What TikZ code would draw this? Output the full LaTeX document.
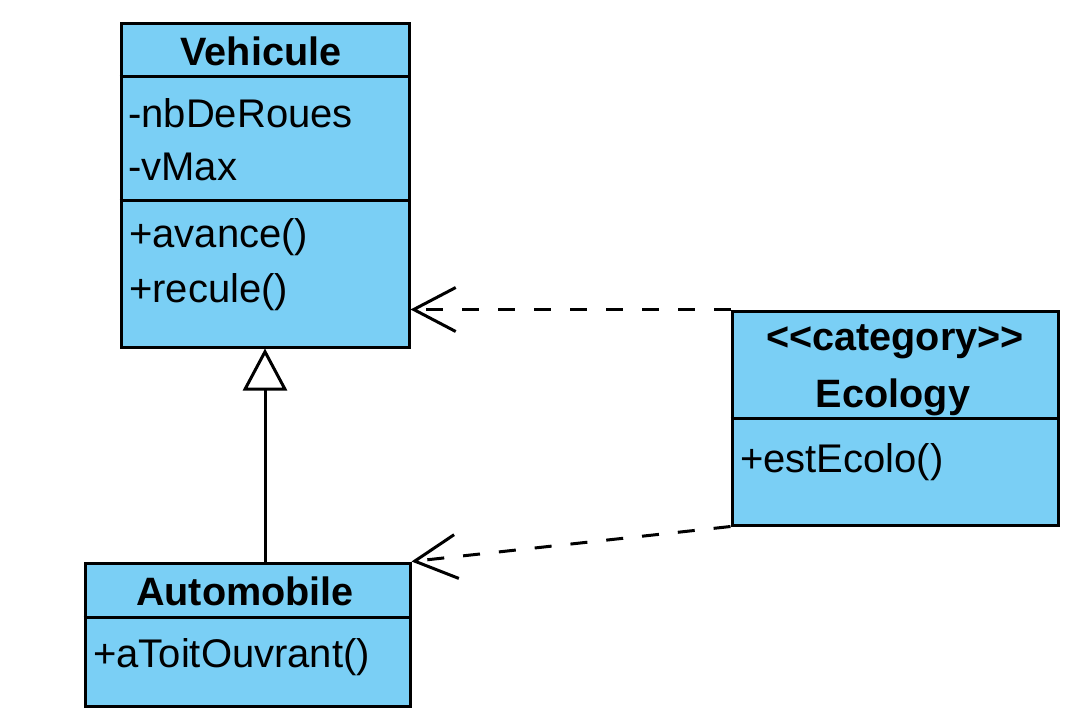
\documentclass[tikz,border=0pt]{standalone}
\usepackage{fontspec}
\setmainfont{Liberation Sans}
\usetikzlibrary{arrows.meta}
\definecolor{classfill}{RGB}{122,207,245}
\begin{document}
\begin{tikzpicture}[x=1pt,y=-1pt,
  classbox/.style={draw=black, fill=classfill, line width=3pt, rectangle, inner sep=0pt},
  sepline/.style={draw=black, line width=3pt},
  txt/.style={inner sep=0pt, font=\fontsize{40}{46}\selectfont, anchor=base west},
  ttl/.style={inner sep=0pt, font=\fontsize{39.6}{46}\selectfont\bfseries, anchor=base},
  dep/.style={line width=3pt, dash pattern=on 17pt off 19pt, -{Straight Barb[length=42pt,width=44pt]}},
  inh/.style={line width=3pt, -{Triangle[open,length=42pt,width=44pt,fill=white]}}]
\useasboundingbox[fill=white] (0,0) rectangle (1072,721);

% Vehicule
\node[classbox, minimum width=288pt, minimum height=324pt] (veh) at (265,185) {};
\draw[sepline] (veh.west |- 0,76) -- (veh.east |- 0,76);
\draw[sepline] (veh.west |- 0,200) -- (veh.east |- 0,200);
\node[ttl] (vname) at (261,65) {Vehicule};
\node[txt] (va1) at (128,127) {-nbDeRoues};
\node[txt] (va2) at (128,180) {-vMax};
\node[txt] (vm1) at (129,247) {+avance()};
\node[txt] (vm2) at (129,302) {+recule()};

% Ecology
\node[classbox, minimum width=326pt, minimum height=214pt] (eco) at (895,418) {};
\draw[sepline] (eco.west) -- (eco.east);
\node[ttl] (ecat) at (895,350) {{<}{<}category{>}{>}};
\node[ttl] (ename) at (893,407) {Ecology};
\node[txt] (em1) at (740,472) {+estEcolo()};

% Automobile
\node[classbox, minimum width=325pt, minimum height=143pt] (auto) at (247.5,634.5) {};
\draw[sepline] (auto.west |- 0,617) -- (auto.east |- 0,617);
\node[ttl] (aname) at (245,605) {Automobile};
\node[txt] (am1) at (93,667) {+aToitOuvrant()};

% Connectors
\draw[dep] (eco.north west) -- (veh.east |- eco.north west);
\draw[dep] (eco.south west) -- (auto.north east);
\draw[inh] (veh.south |- auto.north) -- (veh.south);
\end{tikzpicture}
\end{document}
